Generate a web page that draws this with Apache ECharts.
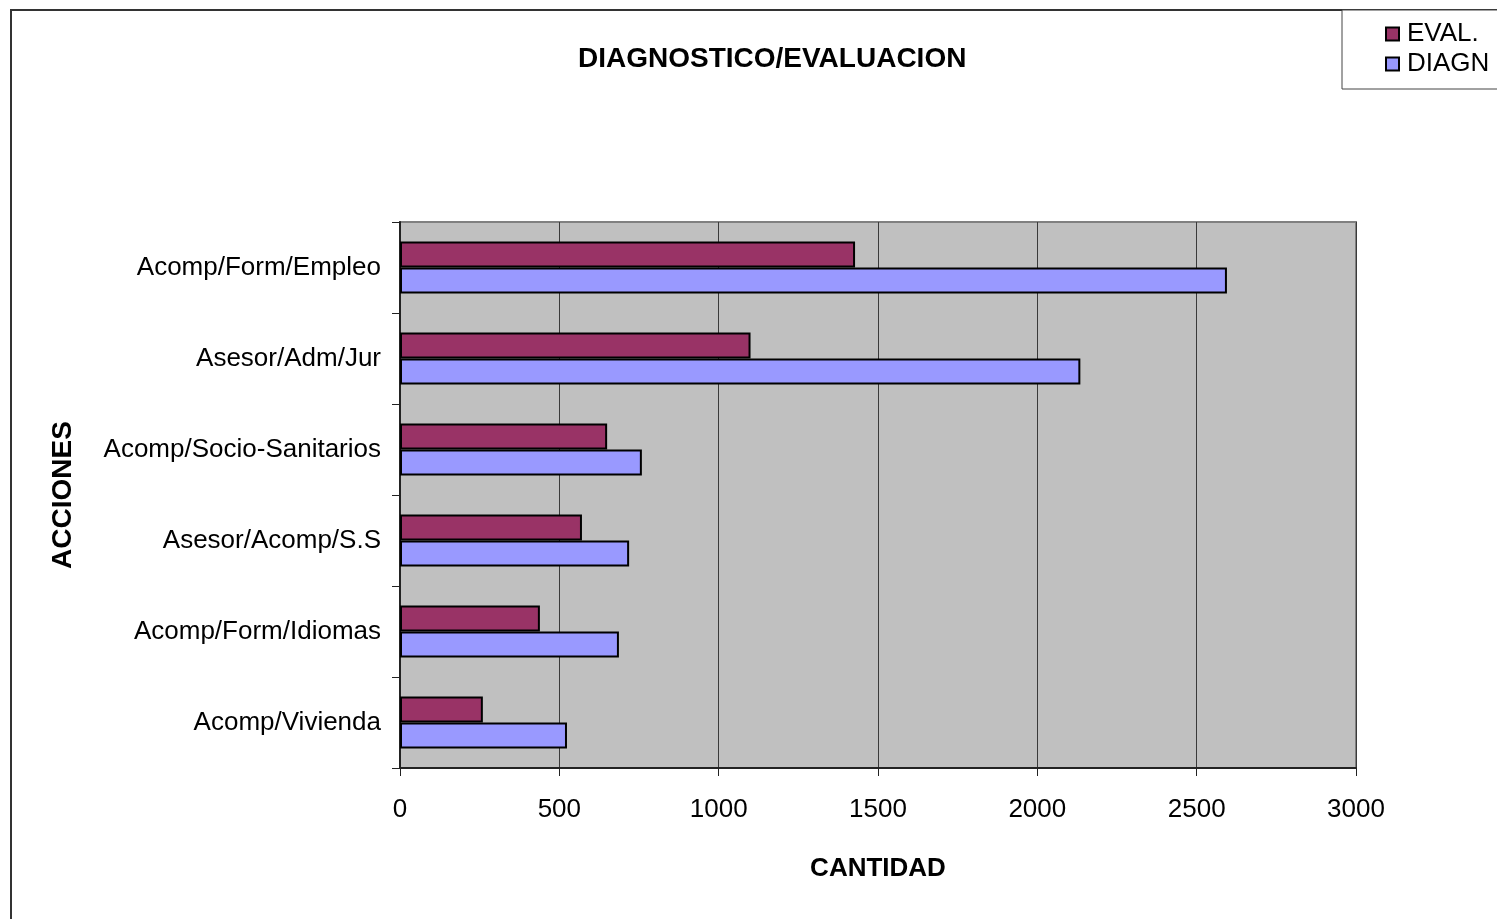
<!DOCTYPE html>
<html>
<head>
<meta charset="utf-8">
<title>DIAGNOSTICO/EVALUACION</title>
<script src="https://cdn.jsdelivr.net/npm/echarts@6/dist/echarts.min.js"></script>
<style>
  html, body { margin: 0; padding: 0; background: #fff; }
  #main { width: 1497px; height: 919px; }
</style>
</head>
<body>
<div id="main"></div>
<script>
// ---------- datos ----------
const categorias = [
  "Acomp/Form/Empleo",
  "Asesor/Adm/Jur",
  "Acomp/Socio-Sanitarios",
  "Asesor/Acomp/S.S",
  "Acomp/Form/Idiomas",
  "Acomp/Vivienda"
];
const evalValores = [1428, 1100, 650, 571, 439, 260];
const diagnValores = [2595, 2135, 759, 719, 687, 524];
const ticksX = [0, 500, 1000, 1500, 2000, 2500, 3000];

const FONT = "Liberation Sans, Arial, sans-serif";

// ---------- grafico ----------
const chart = echarts.init(document.getElementById("main"));

chart.setOption({
  animation: false,
  backgroundColor: "#fff",
  textStyle: { fontFamily: FONT },
  title: {
    text: "DIAGNOSTICO/EVALUACION",
    left: 573,
    top: 40,
    textStyle: { fontFamily: FONT, fontSize: 28, fontWeight: "bold", color: "#000" }
  },
  legend: {
    orient: "vertical",
    left: 1380,
    top: 16,
    itemWidth: 13,
    itemHeight: 13,
    itemGap: 4,
    icon: "rect",
    textStyle: { fontFamily: FONT, fontSize: 26, color: "#000", padding: [0, 0, 0, 3] },
    data: ["EVAL.", "DIAGN"]
  },
  graphic: [
    // marco exterior
    { type: "rect", shape: { x: 11, y: 10, width: 1600, height: 1000 },
      style: { fill: "none", stroke: "#333", lineWidth: 2 }, silent: true, z: -1 },
    // caja de leyenda
    { type: "rect", shape: { x: 1342, y: 10, width: 200, height: 79 },
      style: { fill: "#fff", stroke: "#444", lineWidth: 1 }, silent: true, z: 0 }
  ],
  grid: {
    left: 400, right: 141, top: 222, bottom: 151,
    show: true,
    backgroundColor: "#C0C0C0",
    borderColor: "#808080",
    borderWidth: 2
  },
  xAxis: {
    type: "value",
    min: ticksX[0],
    max: ticksX[ticksX.length - 1],
    interval: 500,
    name: "CANTIDAD",
    nameLocation: "middle",
    nameGap: 88,
    nameTextStyle: { fontFamily: FONT, fontSize: 26, fontWeight: "bold", color: "#000" },
    axisLine: { show: true, lineStyle: { color: "#222", width: 2 } },
    axisTick: { show: true, length: 8, lineStyle: { color: "#222" } },
    axisLabel: {
      margin: 29, fontFamily: FONT, fontSize: 26, color: "#000",
      formatter: v => String(v)
    },
    splitLine: { show: true, lineStyle: { color: "#3a3a3a", width: 1 } }
  },
  yAxis: {
    type: "category",
    data: categorias,
    inverse: true,
    name: "ACCIONES",
    nameLocation: "middle",
    nameGap: 323,
    nameRotate: 90,
    nameTextStyle: { fontFamily: FONT, fontSize: 28, fontWeight: "bold", color: "#000" },
    axisLine: { show: true, lineStyle: { color: "#222", width: 2 } },
    axisTick: { show: true, length: 8, lineStyle: { color: "#222" } },
    axisLabel: { margin: 19, fontFamily: FONT, fontSize: 26, color: "#000" },
    splitLine: { show: false }
  },
  series: [
    {
      name: "EVAL.",
      type: "bar",
      data: evalValores,
      barWidth: 26,
      barGap: "0%",
      itemStyle: { color: "#993366", borderColor: "#000", borderWidth: 2 }
    },
    {
      name: "DIAGN",
      type: "bar",
      data: diagnValores,
      barWidth: 26,
      barGap: "0%",
      itemStyle: { color: "#9999FF", borderColor: "#000", borderWidth: 2 }
    }
  ]
});
</script>
</body>
</html>
